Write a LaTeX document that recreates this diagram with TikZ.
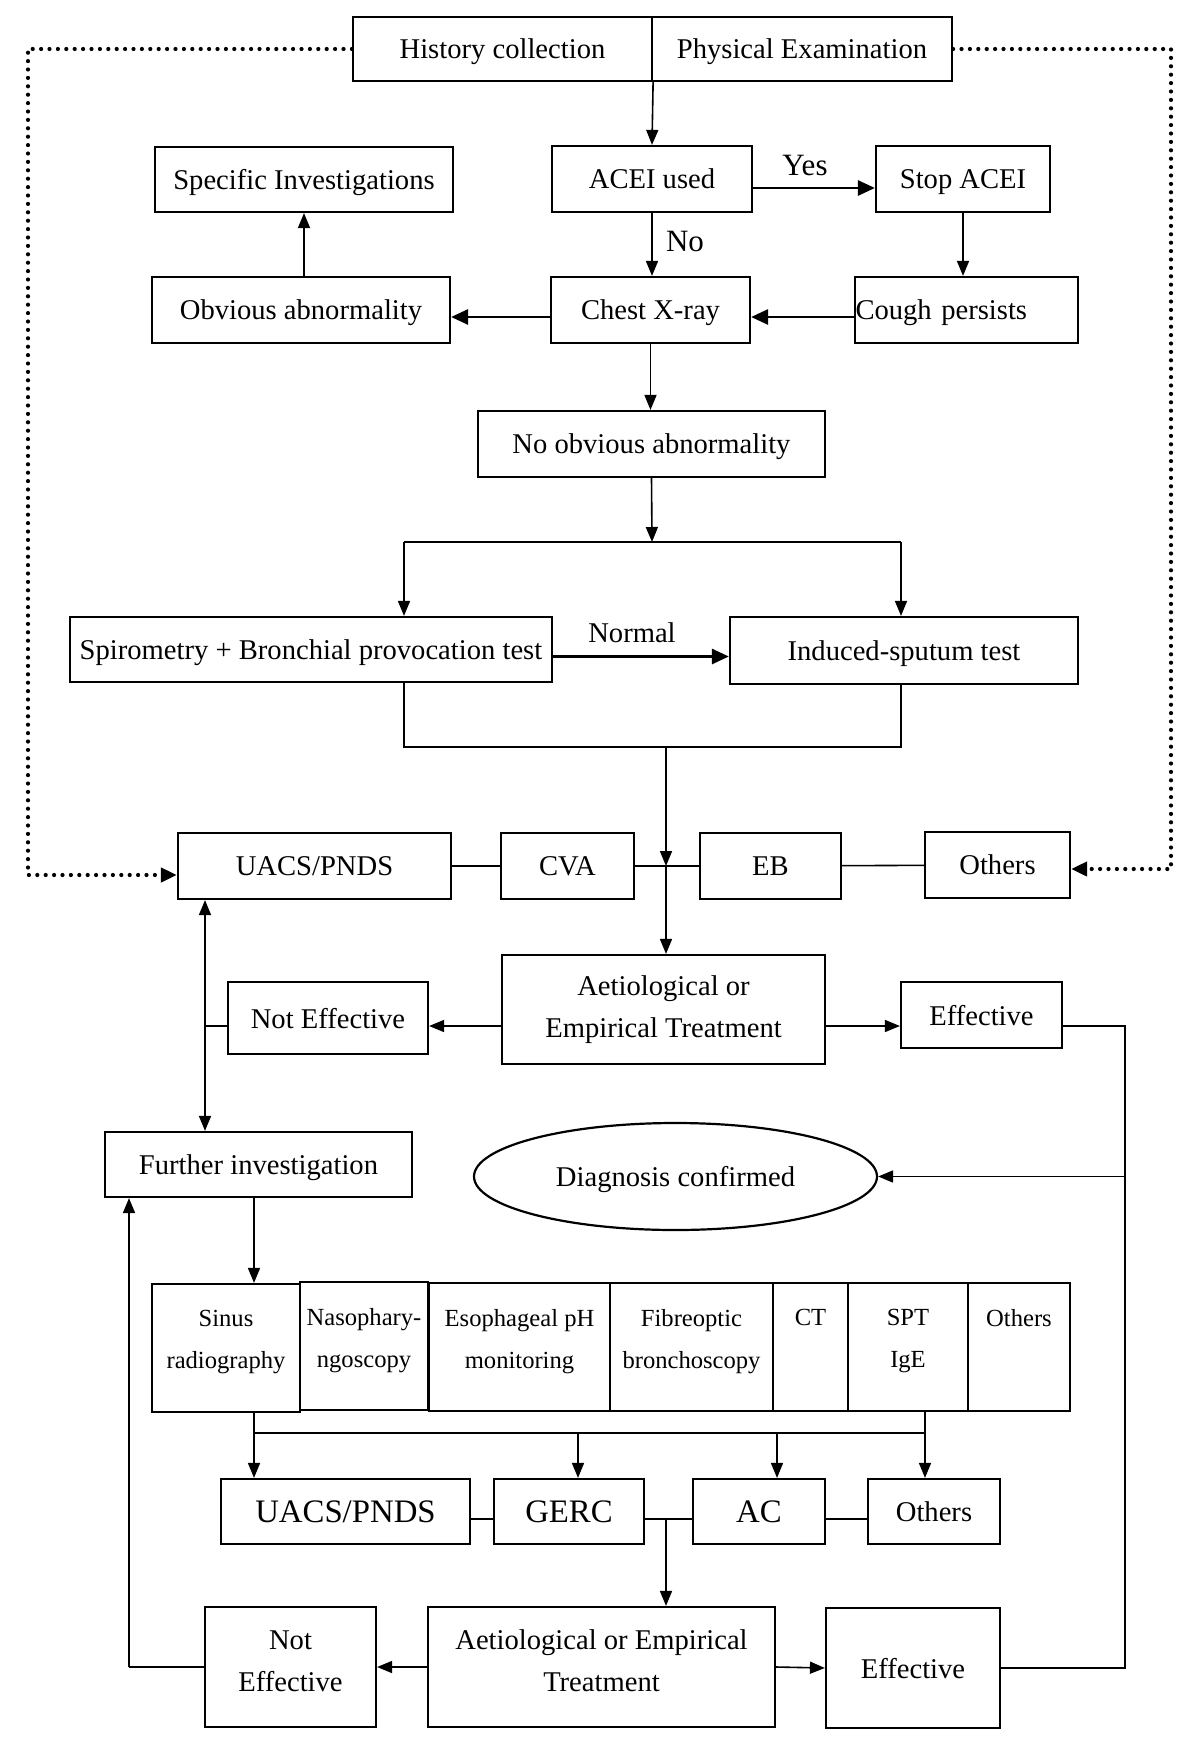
\documentclass[tikz,border=0pt]{standalone}
\usepackage{fontspec}
\setmainfont{Liberation Serif}
\usepackage{tikz}
\usetikzlibrary{arrows.meta,shapes.geometric,calc}
\tikzset{
  wh/.style 2 args={minimum width=#1*0.5pt, minimum height=#2*0.5pt},
  twobox/.style={draw, rectangle, line width=1.1pt, inner sep=0pt, align=center,
    font=\fontsize{14.3}{21}\selectfont},
  flowbox/.style={twobox, text depth=0pt},
  bigbox/.style={flowbox, font=\fontsize{16.4}{21}\selectfont},
  testtext/.style={anchor=north, align=center, inner sep=0pt, yshift=-13.5pt,
    font=\fontsize{12.3}{21}\selectfont},
  edgetext/.style={inner sep=0pt, font=\fontsize{14.3}{17}\selectfont},
  yesno/.style={inner sep=0pt, font=\fontsize{15.5}{18}\selectfont},
  flowline/.style={line width=0.8pt},
  flowarrow/.style={line width=0.8pt, -{Triangle[length=7.5pt,width=6pt]}},
  flowboth/.style={line width=0.8pt, {Triangle[length=7.5pt,width=6pt]}-{Triangle[length=7.5pt,width=6pt]}},
  thickarrow/.style={line width=1.4pt, -{Triangle[length=8.5pt,width=7.5pt]}},
  dotline/.style={line width=2.1pt, line cap=round, dash pattern=on 0pt off 4.2pt,
    -{Triangle[length=8pt,width=7pt]}}
}

\begin{document}
\begin{tikzpicture}[x=0.5pt, y=-0.5pt]
  \useasboundingbox (0,0) rectangle (1200,1750);

  % first part
  \node[flowbox, wh={299}{64}] (hist) at (502.5,49) {History collection};
  \node[flowbox, wh={300}{64}] (phys) at (802,49) {Physical Examination};
  \node[flowbox, wh={200}{66}] (acei) at (652,179) {ACEI used};
  \node[flowbox, wh={174}{66}] (stop) at (963,179) {Stop ACEI};
  \node[flowbox, wh={298}{65}] (spec) at (304,179.5) {Specific Investigations};
  \node[flowbox, wh={298}{66}] (obv) at (301,310) {Obvious abnormality};
  \node[flowbox, wh={199}{66}] (chest) at (650.5,310) {Chest X-ray};
  \node[flowbox, wh={223}{66}, text width=111pt, align=left] (cough) at (966.5,310) {Cough persists};
  \node[flowbox, wh={347}{66}] (noabn) at (651.5,444) {No obvious abnormality};
  \node[flowbox, wh={482}{65}] (spiro) at (311,649.5) {Spirometry + Bronchial provocation test};
  \node[flowbox, wh={348}{67}] (sputum) at (904,650.5) {Induced-sputum test};

  \draw[flowarrow] (hist.south east) -- (acei.north);
  \draw[thickarrow] ($(acei.east)+(0,9)$) -- ($(stop.west)+(0,9)$);
  \node[yesno] (yes) at (805,166) {Yes};
  \draw[flowarrow] (acei.south) -- (acei.south |- chest.north);
  \node[yesno] (no) at (685,242) {No};
  \draw[flowarrow] (stop.south) -- (stop.south |- cough.north);
  \draw[thickarrow] ($(cough.west)+(0,7)$) -- ($(chest.east)+(0,7)$);
  \draw[thickarrow] ($(chest.west)+(0,7)$) -- ($(obv.east)+(0,7)$);
  \draw[flowarrow] (spec.south |- obv.north) -- (spec.south);
  \draw[flowarrow] (chest.south) -- (chest.south |- noabn.north);

  \coordinate (split) at (652,542);
  \coordinate (splitL) at (404,542);
  \coordinate (splitR) at (901,542);
  \draw[flowarrow] (noabn.south) -- (split);
  \draw[flowline] (splitL) -- (splitR);
  \draw[flowarrow] (splitL) -- (splitL |- spiro.north);
  \draw[flowarrow] (splitR) -- (splitR |- sputum.north);
  \coordinate (nrm) at ($(spiro.east)+(0,7)$);
  \draw[thickarrow] (nrm) -- (nrm -| sputum.west);
  \node[edgetext] (normal) at (632,633) {Normal};

  % second part
  \node[flowbox, wh={273}{66}] (uacs) at (314.5,866) {UACS/PNDS};
  \node[flowbox, wh={133}{66}] (cva) at (567.5,866) {CVA};
  \node[flowbox, wh={141}{66}] (eb) at (770.5,866) {EB};
  \node[flowbox, wh={145}{66}] (othA) at (997.5,865) {Others};
  \node[twobox, wh={323}{109}] (treatA) at (663.5,1009.5) {Aetiological or\\Empirical Treatment};
  \node[flowbox, wh={200}{72}] (noeffA) at (328,1018) {Not Effective};
  \node[flowbox, wh={161}{66}] (effA) at (981.5,1015) {Effective};
  \node[flowbox, wh={307}{65}] (further) at (258.5,1164.5) {Further investigation};
  \node[flowbox, ellipse, wh={403}{107}] (diag) at (675.5,1176.5) {Diagnosis confirmed};

  \coordinate (joinL) at (404,747);
  \coordinate (joinR) at (901,747);
  \coordinate (join) at (666,747);
  \draw[flowline] (joinL |- spiro.south) -- (joinL) -- (joinR) -- (joinR |- sputum.south);
  \draw[flowarrow] (join) -- (join |- cva.east);
  \draw[flowline] (uacs) -- (cva) -- (eb) -- (othA);
  \draw[flowarrow] (join |- cva.east) -- (join |- treatA.north);

  \coordinate (loopL) at (28,875);
  \coordinate (loopR) at (1171,869);
  \draw[dotline] (hist.west) -| (loopL) -- (loopL -| uacs.west);
  \draw[dotline] (phys.east) -| (loopR) -- (loopR -| othA.east);

  \coordinate (lvlA) at (0,1026);
  \coordinate (sideL) at (205,1026);
  \coordinate (sideR) at (1125,1026);
  \draw[flowarrow] (treatA.west |- lvlA) -- (noeffA.east |- lvlA);
  \draw[flowarrow] (treatA.east |- lvlA) -- (effA.west |- lvlA);
  \draw[flowline] (noeffA.west |- lvlA) -- (sideL);
  \draw[flowboth] (sideL |- uacs.south) -- (sideL |- further.north);

  % tests
  \node[flowbox, wh={148}{128}, label={[testtext]north:Sinus\\radiography}] (sinus) at (226,1348) {};
  \node[flowbox, wh={128}{128}, label={[testtext]north:Nasophary-\\ngoscopy}] (naso) at (364,1346) {};
  \node[flowbox, wh={181}{128}, label={[testtext]north:Esophageal pH\\monitoring}] (eso) at (519.5,1347) {};
  \node[flowbox, wh={163}{128}, label={[testtext]north:Fibreoptic\\bronchoscopy}] (fibre) at (691.5,1347) {};
  \node[flowbox, wh={75}{128}, label={[testtext]north:CT}] (ct) at (810.5,1347) {};
  \node[flowbox, wh={120}{128}, label={[testtext]north:SPT\\IgE}] (spt) at (908,1347) {};
  \node[flowbox, wh={102}{128}, label={[testtext]north:Others}] (othB) at (1019,1347) {};

  \coordinate (fdown) at (254,0);
  \draw[flowarrow] (further.south -| fdown) -- (sinus.north -| fdown);

  \node[bigbox, wh={249}{65}] (uacsB) at (345.5,1511.5) {UACS/PNDS};
  \node[bigbox, wh={150}{65}] (gerc) at (569,1511.5) {GERC};
  \node[bigbox, wh={132}{65}] (ac) at (759,1511.5) {AC};
  \node[flowbox, wh={132}{65}] (othC) at (934,1511.5) {Others};

  \coordinate (busL) at (254,1433);
  \coordinate (busG) at (578,1433);
  \coordinate (busA) at (777,1433);
  \coordinate (busR) at (925,1433);
  \draw[flowline] (busL |- sinus.south) -- (busL) -- (busR) -- (busR |- spt.south);
  \foreach \b/\t in {busL/uacsB, busG/gerc, busA/ac, busR/othC}
    \draw[flowarrow] (\b) -- (\b |- \t.north);

  \coordinate (rowB) at (0,1519);
  \foreach \a/\b in {uacsB/gerc, gerc/ac, ac/othC}
    \draw[flowline] (\a.east |- rowB) -- (\b.west |- rowB);

  \node[twobox, wh={171}{120}, text depth=0.6em] (noeffB) at (290.5,1667) {Not\\Effective};
  \node[twobox, wh={347}{120}, text depth=0.6em] (treatB) at (601.5,1667) {Aetiological or Empirical\\Treatment};
  \node[flowbox, wh={174}{120}] (effB) at (913,1668) {Effective};

  \coordinate (dropB) at (666,1519);
  \draw[flowarrow] (dropB) -- (dropB |- treatB.north);
  \draw[flowarrow] (treatB.west) -- (noeffB.east);
  \draw[flowarrow] (treatB.east) -- (effB.west);

  \coordinate (backL) at (129,1666);
  \draw[flowline] (noeffB.west) -- (backL |- noeffB.west);
  \draw[flowarrow] (backL |- noeffB.west) -- (backL |- further.south);
  \draw[flowline] (effA.east |- lvlA) -- (sideR) -- (sideR |- effB.east) -- (effB.east);
  \draw[flowarrow] (sideR |- diag.east) -- (diag.east);
\end{tikzpicture}
\end{document}
